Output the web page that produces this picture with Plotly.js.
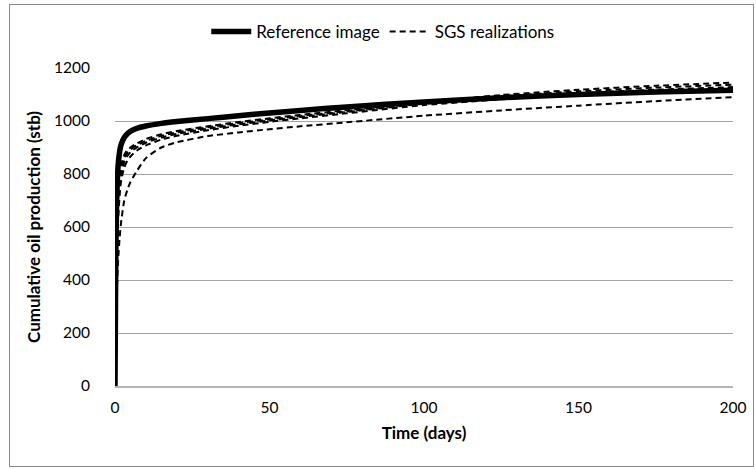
<!DOCTYPE html>
<html>
<head>
<meta charset="utf-8">
<script src="https://cdn.plot.ly/plotly-3.0.1.min.js"></script>
<style>
  html, body { margin: 0; padding: 0; background: #fff; }
  #wrap { position: relative; width: 756px; height: 469px; overflow: hidden; }
  #chart { width: 756px; height: 469px; }
  #frame { position: absolute; left: 9px; top: 4px; width: 743px; height: 461px;
           border: 1.5px solid #8a8a8a; pointer-events: none; }
</style>
</head>
<body>
<div id="wrap">
  <div id="chart"></div>
  <div id="frame"></div>
</div>
<script>
// Time grid (days)
const timeDays = [0, 0.25, 0.5, 1, 1.5, 2, 3, 4, 5, 7, 10, 15, 20, 30, 40, 50, 60, 75, 100, 125, 150, 175, 200];

// Reference image (thick solid)
const referenceOil = [0, 480, 680, 830, 885, 912, 938, 952, 961, 972, 981, 991, 998, 1009, 1020, 1030, 1040, 1053, 1072, 1088, 1100, 1109, 1116];

// SGS realizations (dashed)
const sgs1 = [0, 330, 530, 710, 790, 835, 872, 890, 900, 915, 932, 950, 962, 980, 996, 1010, 1023, 1041, 1070, 1098, 1118, 1133, 1145];
const sgs2 = [0, 300, 500, 690, 775, 820, 860, 880, 892, 908, 925, 944, 957, 976, 992, 1006, 1019, 1037, 1068, 1093, 1112, 1126, 1137];
const sgs3 = [0, 280, 470, 660, 750, 800, 845, 868, 882, 900, 918, 938, 951, 971, 987, 1002, 1015, 1034, 1065, 1088, 1105, 1118, 1128];
const sgs4 = [0, 250, 430, 620, 720, 775, 825, 850, 866, 888, 908, 930, 944, 965, 982, 997, 1010, 1029, 1060, 1082, 1098, 1110, 1120];
const sgs5 = [0, 200, 330, 470, 560, 620, 700, 740, 770, 810, 860, 900, 920, 943, 957, 969, 980, 995, 1020, 1040, 1058, 1075, 1090];

const sgsSeries = [sgs1, sgs2, sgs3, sgs4, sgs5];

const seriesNames = ["Reference image", "SGS realizations"];
const xTickVals = [0, 50, 100, 150, 200];
const yTickVals = [0, 200, 400, 600, 800, 1000, 1200];

const FONT = "Lato, 'Open Sans', 'DejaVu Sans', sans-serif";
const FS = 17;
const TICK_FS = 15.5;

const traces = [];
sgsSeries.forEach((s, i) => {
  traces.push({
    x: timeDays, y: s, type: "scatter", mode: "lines",
    name: seriesNames[1], legendgroup: "sgs", showlegend: i === 0,
    line: { color: "#000", width: 2, dash: "6px,4px", shape: "spline", smoothing: 0.6 },
    hoverinfo: "skip"
  });
});
traces.push({
  x: timeDays, y: referenceOil, type: "scatter", mode: "lines",
  name: seriesNames[0], legendgroup: "ref", showlegend: true,
  line: { color: "#000", width: 5.5, shape: "spline", smoothing: 0.6 },
  hoverinfo: "skip"
});

const layout = {
  width: 756, height: 469,
  margin: { l: 115, r: 23, t: 68, b: 83 },
  paper_bgcolor: "#fff", plot_bgcolor: "#fff",
  font: { family: FONT, size: FS, color: "#000" },
  showlegend: true,
  legend: {
    orientation: "h", x: 0.434, xanchor: "center", y: 1.113, yanchor: "middle",
    font: { family: FONT, size: FS, color: "#000" },
    traceorder: "reversed", itemwidth: 40, tracegroupgap: 0,
    bgcolor: "rgba(0,0,0,0)"
  },
  xaxis: {
    range: [0, 200], tickvals: xTickVals, ticktext: xTickVals.map(String),
    showgrid: false, zeroline: false,
    showline: true, linecolor: "#b5b5b5", linewidth: 1.5,
    ticks: "", ticklabelstandoff: 7,
    tickfont: { family: FONT, size: TICK_FS, color: "#000" },
    title: { text: "Time (days)", font: { family: FONT, size: FS, color: "#000", weight: "bold" }, standoff: 12 }
  },
  yaxis: {
    range: [0, 1200], tickvals: yTickVals, ticktext: yTickVals.map(String),
    showgrid: true, gridcolor: "#a3a3a3", gridwidth: 1,
    zeroline: false, showline: false,
    ticks: "", ticklabelstandoff: 24,
    tickfont: { family: FONT, size: TICK_FS, color: "#000" },
    title: { text: "Cumulative oil production (stb)", font: { family: FONT, size: FS, color: "#000", weight: "bold" }, standoff: 9 }
  }
};

Plotly.newPlot("chart", traces, layout, { displayModeBar: false, staticPlot: true });
</script>
</body>
</html>
